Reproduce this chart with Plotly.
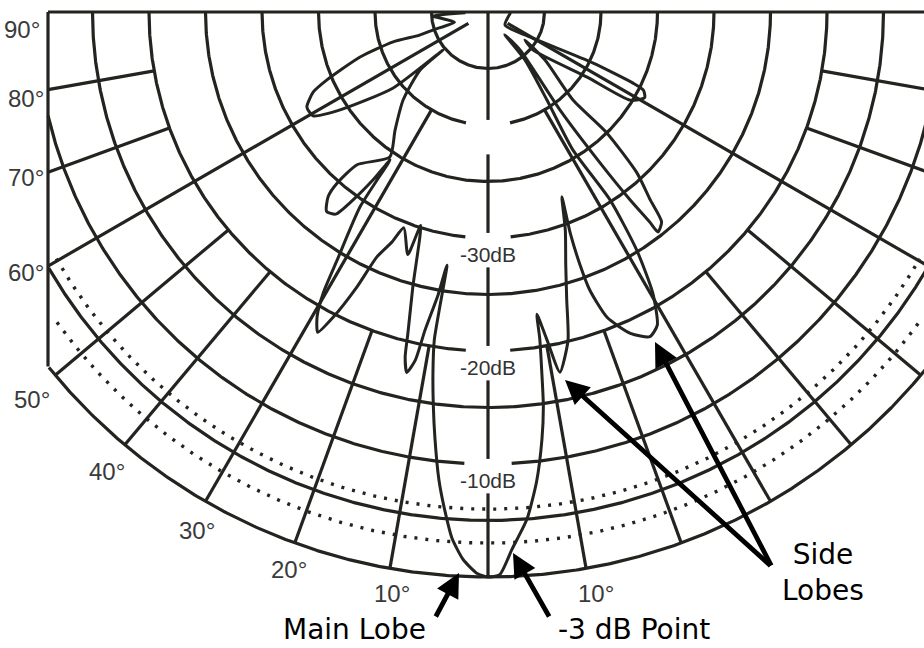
import numpy as np
import plotly.graph_objects as go

# ---------------- data ----------------
ring_db = [-45, -40, -35, -30, -25, -20, -15, -10, -5, 0]
dotted_db = [-3, -6]
spoke_deg = [10, 20, 30, 40, 50, 60, 70, 80]
spoke_inner_db = [-20, -20, -40, -20, -20, -48, -20, -20]
level_labels_db = [-30, -20, -10]
level_labels = ["-30dB", "-20dB", "-10dB"]
gap_rings_db = [-40, -30, -20, -10]
angle_labels = ["90°", "80°", "70°", "60°", "50°", "40°", "30°", "20°", "10°", "10°"]

# traced beam pattern: angle (deg, + = right of axis) and level (dB)
pattern_deg = [-88, -85.8, -73.1,
               -71.9, -71.3, -72.5, -70.6, -67.1, -65.4, -62.3, -59.3, -56.5, -51.3, -49.8,
               -49.5, -44.0, -38.2, -34.1,
               -40.6, -41.4, -40.9, -39.0, -37.0, -35.7, -34.4, -33.5,
               -33.3, -31.3, -30.4, -29.3, -28.0,
               -26.9, -25.5, -24.4, -22.7,
               -21.3, -18.3, -17.5,
               -15.3, -14.0, -13.5, -12.7, -11.8, -11.2, -10.0, -9.2,
               -9.3, -8.7, -7.9, -7.1, -6.0, -4.9, -3.9, -2.6, -1.1, 0.0,
               1.2, 2.55, 4.4, 5.9, 7.2, 8.0, 8.5, 9.0, 9.2,
               10.2, 11.3, 13.7, 15.3, 17.1, 19.5, 21.8,
               20.4, 20.0, 20.1, 21.3, 23.9, 26.5, 28.4, 30.4, 32.0, 33.0, 31.6, 33.8, 37.6, 36.5,
               40.1, 36.3, 36.6, 37.1, 37.6, 37.7, 39.6, 40.8, 42.8, 44.5, 44.0, 49.9, 52.9,
               49.8, 56.7, 58.2, 61.3, 63.3, 63.9, 64.1, 59.2, 52.6,
               88]
pattern_db = [-48.0, -45.1, -46.9,
              -44.9, -43.6, -41.2, -38.0, -34.5, -33.0, -31.9, -32.0, -34.3, -39.2, -44.8,
              -42.1, -39.2, -36.7, -34.5,
              -32.2, -29.8, -28.4, -27.3, -27.6, -29.5, -32.0, -34.3,
              -29.4, -24.3, -21.2, -19.1, -17.9,
              -19.7, -23.0, -26.2, -27.9,
              -29.5, -27.4, -30.2,
              -24.8, -20.7, -18.6, -17.3, -18.5, -21.3, -24.6, -27.3,
              -20.6, -17.8, -14.8, -12.0, -8.4, -5.6, -3.3, -1.5, -0.3, 0.0,
              -0.2, -2.4, -5.0, -8.2, -11.9, -14.8, -17.8, -20.7, -22.9,
              -20.5, -17.5, -20.1, -23.6, -26.6, -29.5, -32.4,
              -29.1, -26.2, -23.8, -21.0, -18.9, -17.9, -18.5, -21.2, -25.2, -30.2, -35.7, -40.6, -44.6, -47.5,
              -45.6, -39.2, -33.4, -29.2, -26.5, -25.4, -25.9, -28.0, -30.6, -35.0, -39.2, -43.4, -45.9,
              -44.8, -39.5, -35.2, -34.2, -34.6, -35.7, -39.7, -45.7, -48.1,
              -48.0]

# ---------------- geometry / style ----------------
W, H = 924, 648
K = 11.3            # pixels per dB of radius
CX, CY = 488, 12    # pixel position of the chart centre (-50 dB)
DB0 = -50
CLIP = 440 / K      # side frame of the chart
INK = "#22241f"


def xy(theta_deg, db):
    t = np.radians(np.asarray(theta_deg, float))
    rho = np.asarray(db, float) - DB0
    return rho * np.sin(t), -rho * np.cos(t)


def nan_join(parts):
    xs, ys = [], []
    for x, y in parts:
        xs += list(x) + [None]
        ys += list(y) + [None]
    return xs, ys


def arc(db, clip=CLIP, gap=0.0):
    th = np.linspace(-90, 90, 721)
    x, y = xy(th, np.full_like(th, db))
    xf = x.copy()
    x = x.astype(object)
    y = y.astype(object)
    bad = (np.abs(xf) > clip) | (np.abs(xf) < gap)
    x[bad] = None
    y[bad] = None
    return list(x), list(y)


grid_parts = []
for db in ring_db:
    gap = 22 / K if db in gap_rings_db else 0.0
    grid_parts.append(arc(db, gap=gap))

# spokes (both sides), clipped by the side frame
for a, inner in zip(spoke_deg, spoke_inner_db):
    for s in (-1, 1):
        rho_out = min(50, CLIP / np.sin(np.radians(a)))
        x, y = xy([s * a, s * a], [inner, DB0 + rho_out])
        grid_parts.append((x, y))

# horizontal top line (90 deg) and side frame
grid_parts.append(([-CLIP, CLIP], [0, 0]))
yb = -np.sqrt(50 ** 2 - CLIP ** 2)
grid_parts.append(([-CLIP, -CLIP], [0, yb]))
grid_parts.append(([CLIP, CLIP], [0, yb]))

# centre line with gaps behind the level labels
gaps = sorted([(g - 0.45, g + 2.6) for g in gap_rings_db])
segs, start = [], DB0
for lo, hi in gaps:
    segs.append((start, lo))
    start = hi
segs.append((start, 0))
for lo, hi in segs:
    x, y = xy([0, 0], [lo, hi])
    grid_parts.append((x, y))

gx, gy = nan_join(grid_parts)

dot_parts = [arc(db, clip=432 / K) for db in dotted_db]
dx_, dy_ = nan_join(dot_parts)

px, py = xy(pattern_deg, pattern_db)

fig = go.Figure()
fig.add_trace(go.Scatter(x=gx, y=gy, mode="lines", line=dict(color=INK, width=3.2),
                         hoverinfo="skip", connectgaps=False))
fig.add_trace(go.Scatter(x=dx_, y=dy_, mode="lines",
                         line=dict(color=INK, width=3.4, dash="3px,8px"),
                         hoverinfo="skip", connectgaps=False))
fig.add_trace(go.Scatter(x=list(px), y=list(py), mode="lines",
                         line=dict(color=INK, width=3.0, shape="spline", smoothing=0.6),
                         hoverinfo="skip"))

ann = []
for db, txt in zip(level_labels_db, level_labels):
    ann.append(dict(x=0, y=-(db - DB0 + 1.45), xref="x", yref="y", text=txt, showarrow=False,
                    xanchor="center", yanchor="middle",
                    font=dict(family="Liberation Sans", size=21, color="#333333")))

angle_label_px = [(22, 30), (26, 98), (26, 177), (26, 272), (32, 399), (107, 471),
                  (197, 530), (289, 569), (392, 593), (596, 593)]
for txt, (ax_, ay_) in zip(angle_labels, angle_label_px):
    ann.append(dict(x=ax_ / W, y=1 - ay_ / H, xref="paper", yref="paper", text=txt,
                    showarrow=False, xanchor="center", yanchor="middle",
                    font=dict(family="Liberation Sans", size=24, color="#3a3a3a")))

call_font = dict(family="DejaVu Sans", size=28, color="black")
ann.append(dict(x=354 / W, y=1 - 629 / H, xref="paper", yref="paper", text="Main Lobe",
                showarrow=False, xanchor="center", yanchor="middle", font=call_font))
ann.append(dict(x=634 / W, y=1 - 629 / H, xref="paper", yref="paper", text="-3 dB Point",
                showarrow=False, xanchor="center", yanchor="middle", font=call_font))
ann.append(dict(x=823 / W, y=1 - 572 / H, xref="paper", yref="paper", text="Side<br>Lobes",
                showarrow=False, xanchor="center", yanchor="middle", font=call_font))

arrows = [((435, 618), (459, 573)), ((550, 618), (513, 553)),
          ((772, 567), (565, 380)), ((772, 567), (655, 342))]
for (tx, ty), (hx, hy) in arrows:
    ann.append(dict(x=hx / W, y=1 - hy / H, xref="paper", yref="paper", text="",
                    showarrow=True, ax=tx - hx, ay=ty - hy, arrowhead=2, arrowsize=1,
                    arrowwidth=4.8, arrowcolor="black", standoff=0, startstandoff=0))

fig.update_layout(
    width=W, height=H, margin=dict(l=0, r=0, t=0, b=0),
    paper_bgcolor="white", plot_bgcolor="white", showlegend=False,
    xaxis=dict(range=[-CX / K, (W - CX) / K], visible=False, fixedrange=True),
    yaxis=dict(range=[-(H - CY) / K, CY / K], visible=False, fixedrange=True),
    annotations=ann,
)

fig.write_html("out.html", config={"displayModeBar": False},
               post_script="document.body.style.margin='0px';")
